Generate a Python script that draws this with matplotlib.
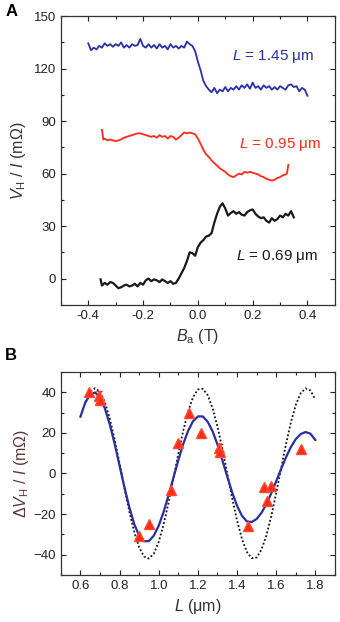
import numpy as np
import matplotlib
matplotlib.use('Agg')
import matplotlib.pyplot as plt
from matplotlib.ticker import MultipleLocator

plt.rcParams['font.family'] = ['Liberation Sans', 'DejaVu Sans']
plt.rcParams['mathtext.fontset'] = 'custom'
plt.rcParams['mathtext.rm'] = 'Liberation Sans'
plt.rcParams['mathtext.it'] = 'Liberation Sans:italic'

# ---- panel A: Hall traces ----
b_blue = np.round(np.arange(-0.40, 0.401, 0.01), 3)
v_blue = [134.5, 130.5, 132, 131, 133, 132, 134.5, 133, 134, 132.5,
          134, 133, 135, 132, 133.5, 132, 134, 133, 133.5, 137,
          133, 132, 134, 132, 133.5, 131.5, 134, 132, 133, 131,
          134, 132, 133, 131.5, 133, 132, 135.5, 134, 133, 130,
          124, 119, 113, 110, 108, 106.5, 109, 106, 108, 107,
          109.5, 107, 109, 108, 110, 108, 110.5, 109, 111, 108.5,
          112, 109, 110, 108, 110.5, 109, 110, 108, 109.5, 108,
          110, 109, 108, 110.5, 111, 109.5, 110, 107, 109, 108, 104.5]

b_red = [-0.35, -0.345, -0.34, -0.33, -0.32, -0.31, -0.30, -0.29, -0.28, -0.27,
         -0.26, -0.25, -0.24, -0.23, -0.22, -0.21, -0.20, -0.19, -0.18, -0.17,
         -0.16, -0.15, -0.14, -0.13, -0.12, -0.11, -0.10, -0.09, -0.08, -0.07,
         -0.06, -0.05, -0.04, -0.03, -0.02, -0.01, 0.00, 0.01, 0.02, 0.03,
         0.04, 0.05, 0.06, 0.07, 0.08, 0.09, 0.10, 0.11, 0.12, 0.13,
         0.14, 0.15, 0.16, 0.17, 0.18, 0.19, 0.20, 0.21, 0.22, 0.23,
         0.24, 0.25, 0.26, 0.27, 0.28, 0.29, 0.30, 0.31, 0.32, 0.325, 0.33]
v_red = [85, 79.5, 80, 79, 79.5, 79, 78.5, 79, 79.5, 80.5,
         81, 81.5, 82, 82.5, 83, 83, 82.5, 82, 81.5, 81,
         81.5, 80.5, 82, 81, 81.5, 80, 81.5, 81, 79.5, 80.5,
         82, 83.5, 83, 83.5, 83, 82.5, 80, 77, 73.5, 71,
         69.5, 67.5, 66, 64.5, 63, 62, 61, 59.5, 58.5, 58,
         59, 60, 59.5, 61, 60.5, 61, 60.5, 60, 59.5, 58.5,
         58, 57, 56.5, 56, 56.5, 57.5, 58, 59, 59.5, 60, 65]

b_black = [-0.355, -0.35, -0.34, -0.33, -0.32, -0.31, -0.30, -0.29, -0.28, -0.27,
           -0.26, -0.25, -0.24, -0.23, -0.22, -0.21, -0.20, -0.19, -0.18, -0.17,
           -0.16, -0.15, -0.14, -0.13, -0.12, -0.11, -0.10, -0.09, -0.08, -0.07,
           -0.06, -0.05, -0.04, -0.03, -0.02, -0.01, 0.00, 0.01, 0.02, 0.03,
           0.04, 0.05, 0.06, 0.07, 0.08, 0.09, 0.10, 0.11, 0.12, 0.13,
           0.14, 0.15, 0.16, 0.17, 0.18, 0.19, 0.20, 0.21, 0.22, 0.23,
           0.24, 0.25, 0.26, 0.27, 0.28, 0.29, 0.30, 0.31, 0.32, 0.33, 0.34, 0.35]
v_black = [-0.5, -4, -2.5, -3.5, -2, -2.5, -4, -5.5, -5, -4,
           -3.5, -4.5, -4, -3, -4.5, -2.5, -3.5, -1, 0, -1.5,
           -0.5, -1, -2, -0.5, -1.5, -2.5, -1.5, -3, -2.5, 0,
           3, 6, 10, 15, 14.5, 13, 18, 20.5, 22, 24,
           24.5, 26, 32, 37, 41, 43, 40, 36, 37.5, 38.5,
           37, 38, 36.5, 36, 38, 39, 39.5, 37, 35.5, 34.5,
           35, 33, 32, 34.5, 33, 34, 36, 35, 37, 36, 38.5, 35]

# ---- panel B: oscillation vs length ----
L_pts = [0.645, 0.695, 0.70, 0.90, 0.95, 1.065, 1.10, 1.155, 1.215,
         1.31, 1.315, 1.455, 1.54, 1.555, 1.575, 1.725]
dV_pts = [40, 38, 36, -31, -25, -8, 15, 30, 20,
          12.5, 10.5, -26, -6.5, -13.5, -6, 12]
L_err = [0.695, 1.315]
dV_err = [37.5, 11.5]
err_val = [3, 3]

L_fit = [0.600, 0.625, 0.650, 0.675, 0.700, 0.725, 0.750, 0.775, 0.800, 0.825,
         0.850, 0.875, 0.900, 0.925, 0.950, 0.975, 1.000, 1.025, 1.050, 1.075,
         1.100, 1.125, 1.150, 1.175, 1.200, 1.225, 1.250, 1.275, 1.300, 1.325,
         1.350, 1.375, 1.400, 1.425, 1.450, 1.475, 1.500, 1.525, 1.550, 1.575,
         1.600, 1.625, 1.650, 1.675, 1.700, 1.725, 1.750, 1.775, 1.800]
dV_fit = [28, 35, 38.8, 39.9, 37.4, 32.0, 24.1, 14.5, 3.8, -6.9,
          -16.7, -25.0, -30.6, -33.4, -33.3, -30.6, -25.7, -18.9, -10.8, -2.1,
          6.5, 14.5, 21.0, 25.7, 28.1, 28.1, 25.5, 20.8, 14.3, 6.6,
          -1.5, -9.3, -15.9, -20.8, -23.6, -23.9, -22.4, -19.4, -15.1, -9.7,
          -3.9, 2.2, 7.9, 13.0, 16.9, 19.4, 20.4, 19.6, 16.5]

L_model = [0.625, 0.650, 0.675, 0.700, 0.725, 0.750, 0.775, 0.800, 0.825, 0.850,
           0.875, 0.900, 0.925, 0.950, 0.975, 1.000, 1.025, 1.050, 1.075, 1.100,
           1.125, 1.150, 1.175, 1.200, 1.225, 1.250, 1.275, 1.300, 1.325, 1.350,
           1.375, 1.400, 1.425, 1.450, 1.475, 1.500, 1.525, 1.550, 1.575, 1.600,
           1.625, 1.650, 1.675, 1.700, 1.725, 1.750, 1.775, 1.800]
dV_model = [35.1, 40.2, 42, 40.2, 35.1, 27, 16.6, 4.9, -7.3, -18.9,
            -28.8, -36.4, -40.9, -41.9, -39.5, -33.7, -25.1, -14.4, -2.4, 9.7,
            21, 30.5, 37.5, 41.4, 41.7, 38.6, 32.2, 23.1, 12.1, 0,
            -12.1, -23.1, -32.2, -38.6, -41.7, -41.4, -37.5, -30.5, -21, -9.7,
            2.4, 14.4, 25.1, 33.7, 39.5, 41.9, 40.9, 36.4]

fig = plt.figure(figsize=(3.4, 6.22), dpi=100)
axA = fig.add_axes([0.179, 0.510, 0.806, 0.464])
axB = fig.add_axes([0.179, 0.0756, 0.806, 0.3264])


def style(ax):
    ax.tick_params(which='both', direction='in', top=True, right=True,
                   labelsize=9.5, colors='#222222', width=0.8)
    ax.tick_params(which='major', length=3.5)
    ax.tick_params(which='minor', length=2)
    for s in ax.spines.values():
        s.set_linewidth(0.9)
        s.set_color('#333333')


axA.plot(b_blue, v_blue, color='#2b2fa8', lw=1.3)
axA.plot(b_red, v_red, color='#ff2a1a', lw=1.3)
axA.plot(b_black, v_black, color='#1a1a1a', lw=1.6)
axA.set_xlim(-0.5, 0.5)
axA.set_ylim(-15, 150)
axA.xaxis.set_major_locator(MultipleLocator(0.2))
axA.xaxis.set_minor_locator(MultipleLocator(0.1))
axA.yaxis.set_major_locator(MultipleLocator(30))
axA.yaxis.set_minor_locator(MultipleLocator(15))
axA.xaxis.set_major_formatter(plt.FuncFormatter(lambda v, p: f'{v:.1f}'))
style(axA)
axA.set_ylabel(r'$V_{\mathrm{H}}$ / $I$ (m$\Omega$)', fontsize=11.5, color='#333333', labelpad=4)
axA.set_xlabel(r'$B_{\mathrm{a}}$ (T)', fontsize=11.5, color='#333333', labelpad=4)
axA.text(0.125, 127, r'$L$ = 1.45 μm', color='#2b2fa8', fontsize=11, va='center')
axA.text(0.15, 76.5, r'$L$ = 0.95 μm', color='#ff2a1a', fontsize=11, va='center')
axA.text(0.14, 12.5, r'$L$ = 0.69 μm', color='#1a1a1a', fontsize=11, va='center')
fig.text(0.015, 0.982, 'A', fontsize=12, fontweight='bold', va='center')

axB.plot(L_model, dV_model, color='#111111', lw=1.3, ls=(0, (1, 1.2)))
axB.plot(L_fit, dV_fit, color='#2a2fa0', lw=1.6)
axB.errorbar(L_err, dV_err, yerr=err_val, fmt='none', ecolor='#ff2a1a',
             elinewidth=1.0, capsize=2.5)
axB.plot(L_pts, dV_pts, ls='none', marker='^', ms=7, color='#ff2a1a',
         markeredgecolor='#ff4a30')
axB.set_xlim(0.5, 1.9)
axB.set_ylim(-50, 50)
axB.xaxis.set_major_locator(MultipleLocator(0.2))
axB.xaxis.set_minor_locator(MultipleLocator(0.1))
axB.yaxis.set_major_locator(MultipleLocator(20))
axB.yaxis.set_minor_locator(MultipleLocator(10))
style(axB)
axB.set_ylabel(r'$\Delta V_{\mathrm{H}}$ / $I$ (m$\Omega$)', fontsize=11.5, color='#5a3a3a', labelpad=2)
axB.set_xlabel(r'$L$ (μm)', fontsize=11.5, color='#333333', labelpad=4)
fig.text(0.015, 0.428, 'B', fontsize=12, fontweight='bold', va='center')

fig.savefig('out.png', dpi=100)
